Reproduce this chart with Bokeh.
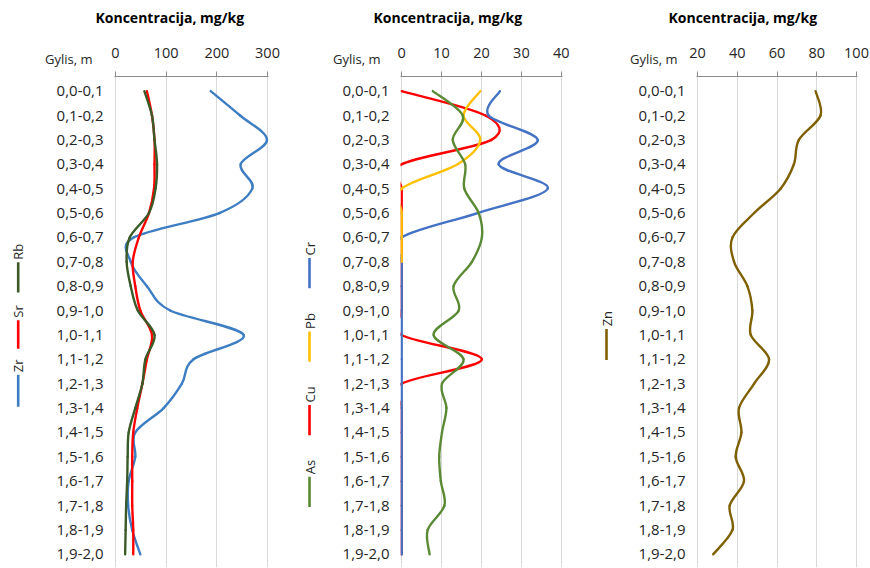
import math
from bokeh.plotting import figure
from bokeh.models import Range1d, FixedTicker, Label
from bokeh.layouts import row
from bokeh.embed import file_html
from bokeh.resources import INLINE

# ---------------- data ----------------
depths = ["0,0-0,1", "0,1-0,2", "0,2-0,3", "0,3-0,4", "0,4-0,5", "0,5-0,6", "0,6-0,7",
          "0,7-0,8", "0,8-0,9", "0,9-1,0", "1,0-1,1", "1,1-1,2", "1,2-1,3", "1,3-1,4",
          "1,4-1,5", "1,5-1,6", "1,6-1,7", "1,7-1,8", "1,8-1,9", "1,9-2,0"]

zr = [188, 246, 299, 247, 270, 205, 36, 30, 62, 108, 253, 154, 131, 95, 39, 39, 26, 25, 33, 49]
sr = [62, 72, 77, 77, 76, 66, 46, 34, 39, 49, 72, 62, 53, 43, 35, 33, 33, 33, 35, 35]
rb = [57, 72, 77, 82, 79, 66, 28, 22, 30, 44, 77, 59, 53, 39, 26, 24, 23, 21, 20, 19]

cr = [24.6, 21.8, 34.1, 24.3, 36.6, 19.0, 0, 0, 0, 0, 0, 0, 0, 0, 0, 0, 0, 0, 0, 0]
pb = [19.7, 15.5, 19.7, 14.0, 0, 0, 0, 0, None, None, None, None, None, None, None, None, None, None, None, None]
cu = [0, 21.0, 22.5, 0, 0, 0, 0, 0, 0, 0, 0, 20.1, 0, 0, 0, 0, 0, 0, 0, 0]
as_ = [7.8, 15.3, 12.8, 15.9, 15.7, 19.3, 20.1, 17.6, 13.0, 14.3, 8.0, 15.5, 10.1, 11.2, 10.1, 9.4, 9.8, 10.7, 6.5, 7.0]

zn = [79.4, 81.9, 71.0, 68.5, 61.8, 48.5, 37.6, 38.4, 45.1, 47.6, 46.8, 56.0, 48.5, 40.9, 42.1, 39.2, 43.4, 36.2, 37.6, 27.9]

panel1_ticks = [0, 100, 200, 300]
panel2_ticks = [0, 10, 20, 30, 40]
panel3_ticks = [20, 40, 60, 80, 100]

TITLE = "Koncentracija,  mg/kg"
YLABEL = "Gylis, m"

C_ZR = "#3d7dc2"
C_SR = "#ff0000"
C_RB = "#3a5a27"
C_CR = "#4472c4"
C_PB = "#ffc000"
C_CU = "#ff0000"
C_AS = "#5b8a35"
C_ZN = "#7f6000"

FONT = "Open Sans"
TXT = "#262626"

Y_TOP = -0.6
Y_BOT = 19.54


def smooth_segments(vals):
    """Bezier segments (Catmull-Rom style, like a smoothed spreadsheet line)."""
    n = len(vals)
    d = dict(x0=[], y0=[], x1=[], y1=[], cx0=[], cy0=[], cx1=[], cy1=[])
    for i in range(n - 1):
        if vals[i] is None or vals[i + 1] is None:
            continue
        p1 = (vals[i], i)
        p2 = (vals[i + 1], i + 1)
        p0 = (vals[i - 1], i - 1) if i > 0 and vals[i - 1] is not None else p1
        p3 = (vals[i + 2], i + 2) if i + 2 < n and vals[i + 2] is not None else p2
        c0 = (p1[0] + (p2[0] - p0[0]) / 6.0, p1[1] + (p2[1] - p0[1]) / 6.0)
        c1 = (p2[0] - (p3[0] - p1[0]) / 6.0, p2[1] - (p3[1] - p1[1]) / 6.0)
        d["x0"].append(p1[0]); d["y0"].append(p1[1])
        d["x1"].append(p2[0]); d["y1"].append(p2[1])
        d["cx0"].append(c0[0]); d["cy0"].append(c0[1])
        d["cx1"].append(c1[0]); d["cy1"].append(c1[1])
    return d


def panel(xr, ticks, bl, br, series, title_off, gy_px):
    p = figure(width=255, height=568, x_range=Range1d(*xr), y_range=Range1d(Y_BOT, Y_TOP),
               x_axis_location="above", output_backend="svg", toolbar_location=None,
               min_border_left=bl, min_border_right=br, min_border_top=76, min_border_bottom=1)
    p.outline_line_color = None
    p.background_fill_color = "white"
    tk = FixedTicker(ticks=ticks)
    p.xaxis.ticker = tk
    p.xgrid.ticker = tk
    p.xgrid.grid_line_color = "#d9d9d9"
    p.xgrid.grid_line_width = 1
    p.ygrid.grid_line_color = None
    p.xaxis.axis_line_color = "#8c8c8c"
    p.xaxis.major_tick_line_color = "#8c8c8c"
    p.xaxis.major_tick_out = 5
    p.xaxis.major_tick_in = 0
    p.xaxis.minor_tick_line_color = None
    p.xaxis.major_label_standoff = 14
    p.xaxis.major_label_text_font = FONT
    p.xaxis.major_label_text_font_size = "14.5px"
    p.xaxis.major_label_text_color = TXT

    ytk = FixedTicker(ticks=list(range(len(depths))))
    p.yaxis.ticker = ytk
    p.yaxis.major_label_overrides = {i: d for i, d in enumerate(depths)}
    p.yaxis.axis_line_color = None
    p.yaxis.major_tick_line_color = None
    p.yaxis.minor_tick_line_color = None
    p.yaxis.major_tick_out = 0
    p.yaxis.major_tick_in = 0
    p.yaxis.major_label_standoff = 11
    p.yaxis.major_label_text_font = FONT
    p.yaxis.major_label_text_font_size = "15px"
    p.yaxis.major_label_text_color = TXT

    for vals, color in series:
        p.bezier(source=smooth_segments(vals), x0="x0", y0="y0", x1="x1", y1="y1",
                 cx0="cx0", cy0="cy0", cx1="cx1", cy1="cy1",
                 line_color=color, line_width=2.4, line_cap="round")

    # y-axis caption, placed in the top side panel (not clipped to the frame)
    p.add_layout(Label(x=gy_px, y=-14, x_units="screen", y_units="screen", text=YLABEL,
                       text_font=FONT, text_font_size="13px", text_color=TXT,
                       text_align="right", text_baseline="middle"), "above")

    p.title.text = TITLE
    p.title.align = "left"
    p.title.offset = title_off
    p.title.standoff = 0
    p.title.text_font = FONT
    p.title.text_font_style = "bold"
    p.title.text_font_size = "14px"
    p.title.text_color = "black"
    return p


def legend_fig(items, x):
    lf = figure(width=35, height=568, x_range=Range1d(0, 35), y_range=Range1d(568, 0),
                x_axis_type=None, y_axis_type=None, output_backend="svg",
                toolbar_location=None, min_border=0)
    lf.outline_line_color = None
    lf.grid.visible = False
    for name, color, ltop, lbot, tbot in items:
        lf.segment(x0=[x], y0=[lbot], x1=[x], y1=[ltop], line_color=color, line_width=2.6)
        lf.add_layout(Label(x=x, y=tbot, text=name, angle=math.pi / 2, text_font=FONT,
                            text_font_size="13px", text_color=TXT,
                            text_align="left", text_baseline="middle"))
    return lf


leg1 = legend_fig([("Rb", C_RB, 215, 250, 212), ("Sr", C_SR, 282, 315, 279),
                   ("Zr", C_ZR, 345, 382, 342)], 17.7)
p1 = panel((-2, 302), panel1_ticks, 79, 22, [(zr, C_ZR), (sr, C_SR), (rb, C_RB)], -19, -22)

leg2 = legend_fig([("Cr", C_CR, 210, 245, 207), ("Pb", C_PB, 295, 330, 292),
                   ("Cu", C_CU, 380, 415, 377), ("As", C_AS, 463, 498, 460)], 19)
p2 = panel((-0.3, 40.3), panel2_ticks, 75, 18, [(cu, C_CU), (cr, C_CR), (pb, C_PB), (as_, C_AS)], -27, -20)

leg3 = legend_fig([("Zn", C_ZN, 292, 328, 289)], 26)
p3 = panel((19.5, 100.5), panel3_ticks, 81, 13, [(zn, C_ZN)], -28, -19)

layout = row(leg1, p1, leg2, p2, leg3, p3, spacing=0)
open("out.html", "w").write(file_html(layout, INLINE))
